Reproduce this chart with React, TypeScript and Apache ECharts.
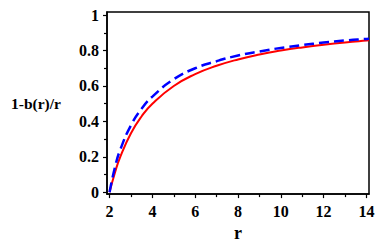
import React, { useEffect, useRef } from "react";
import * as echarts from "echarts";

const rValues = [2, 2.25, 2.5, 3, 3.5, 4, 5, 6, 7, 8, 9, 10, 11, 12, 13, 14, 14.12];
const redValues = [0, 0.11, 0.2, 0.333, 0.429, 0.5, 0.6, 0.667, 0.714, 0.75, 0.778, 0.8, 0.818, 0.833, 0.846, 0.857, 0.858];
const blueValues = [0, 0.14, 0.24, 0.378, 0.472, 0.54, 0.638, 0.7, 0.74, 0.772, 0.795, 0.815, 0.831, 0.845, 0.857, 0.866, 0.867];
const xTicks = [2, 4, 6, 8, 10, 12, 14];
const yTicks = [0, 0.2, 0.4, 0.6, 0.8, 1];
const xMinorTicks = [3, 5, 7, 9, 11, 13];
const yMinorTicks = [0.1, 0.3, 0.5, 0.7, 0.9];

const FONT = "'Liberation Serif', 'DejaVu Serif', serif";
const X_MIN = 1.88;
const X_MAX = 14.12;
const Y_MIN = -0.011;
const Y_MAX = 1.018;

export default function App() {
  const ref = useRef<HTMLDivElement>(null);
  useEffect(() => {
    if (!ref.current) return;
    const chart = echarts.init(ref.current, null, { renderer: "svg" });
    const axisLineStyle = { show: true, onZero: false, lineStyle: { color: "#000", width: 1.5 } };
    const tickStyle = { show: true, inside: false, length: 4, lineStyle: { color: "#000", width: 1.2 } };
    const minorTickStyle = { show: true, inside: false, length: 3, lineStyle: { color: "#000", width: 1.2 } };
    const labelStyle = { color: "#000", fontFamily: FONT, fontWeight: "bold", fontSize: 16 };
    chart.setOption({
      animation: false,
      backgroundColor: "#fff",
      grid: {
        left: 107,
        right: 12,
        top: 12,
        bottom: 46,
        show: true,
        borderColor: "#000",
        borderWidth: 1.5,
        backgroundColor: "transparent",
      },
      xAxis: [
        {
          type: "value",
          min: X_MIN,
          max: X_MAX,
          name: "r",
          nameLocation: "middle",
          nameGap: 27,
          nameTextStyle: { color: "#000", fontFamily: FONT, fontWeight: "bold", fontSize: 18 },
          axisLine: axisLineStyle,
          axisTick: { ...tickStyle, customValues: xTicks },
          minorTick: { show: false },
          splitLine: { show: false },
          axisLabel: { ...labelStyle, margin: 9, customValues: xTicks },
        },
        {
          type: "value",
          position: "bottom",
          min: X_MIN,
          max: X_MAX,
          axisLine: { show: false, onZero: false },
          axisTick: { ...minorTickStyle, customValues: xMinorTicks },
          axisLabel: { show: false },
          splitLine: { show: false },
        },
      ],
      yAxis: [
        {
          type: "value",
          min: Y_MIN,
          max: Y_MAX,
          name: "1-b(r)/r",
          nameLocation: "middle",
          nameRotate: 0,
          nameGap: 71,
          nameTextStyle: {
            color: "#000",
            fontFamily: FONT,
            fontWeight: "bold",
            fontSize: 15.5,
            align: "center",
            verticalAlign: "middle",
            padding: [4, 0, 0, 0],
          },
          axisLine: axisLineStyle,
          axisTick: { ...tickStyle, customValues: yTicks },
          minorTick: { show: false },
          splitLine: { show: false },
          axisLabel: { ...labelStyle, margin: 8, customValues: yTicks },
        },
        {
          type: "value",
          position: "left",
          min: Y_MIN,
          max: Y_MAX,
          axisLine: { show: false, onZero: false },
          axisTick: { ...minorTickStyle, customValues: yMinorTicks },
          axisLabel: { show: false },
          splitLine: { show: false },
        },
      ],
      series: [
        {
          type: "line",
          data: rValues.map((r, i) => [r, redValues[i]]),
          smooth: true,
          showSymbol: false,
          lineStyle: { color: "#ff0000", width: 2 },
          z: 2,
        },
        {
          type: "line",
          data: rValues.map((r, i) => [r, blueValues[i]]),
          smooth: true,
          showSymbol: false,
          lineStyle: { color: "#0000ff", width: 2.5, type: [10, 5] },
          z: 3,
        },
      ],
    });
    return () => chart.dispose();
  }, []);
  return <div ref={ref} style={{ width: 381, height: 247, position: "absolute", left: 0, top: 0 }} />;
}
